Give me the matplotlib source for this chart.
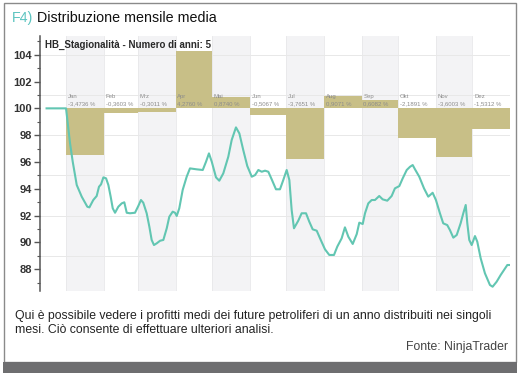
import matplotlib
matplotlib.use("Agg")
import matplotlib.pyplot as plt
from matplotlib.patches import Rectangle
from matplotlib.ticker import MultipleLocator

# ---- data ----
months = ['Jan', 'Feb', 'Mrz', 'Apr', 'Mai', 'Jun', 'Jul', 'Aug', 'Sep', 'Okt', 'Nov', 'Dez']
month_days = [31, 28, 31, 30, 31, 30, 31, 31, 30, 31, 30, 31]
month_pct = [-3.4736, -0.3603, -0.3011, 4.2760, 0.8740, -0.5067,
             -3.7651, 0.9071, 0.6082, -2.1891, -3.6003, -1.5312]

line_day = [-16, 0, 1.1, 3.3, 5.5, 8.8, 12.9, 17.5, 19.2, 22.4, 25.2, 27.1, 28.8, 30.7, 32.9,
            34.8, 36.7, 38.4, 40.3, 43.0, 45.8, 47.9, 49.9, 52.6, 56.7, 59.4, 61.6, 63.5,
            66.3, 68.5, 70.4, 72.3, 74.6, 77.3, 80.0, 82.8, 84.9, 87.7, 89.6, 91.0, 93.1,
            95.9, 99.2, 101.9, 107.4, 112.4, 115.1, 117.5, 119.8, 123.3, 126.0, 129.3,
            133.4, 136.2, 139.7, 142.5, 145.7, 149.0, 152.7, 155.4, 158.1, 160.9, 163.6,
            166.3, 169.1, 172.6, 175.9, 178.6, 181.4, 183.6, 185.5, 187.4, 190.9, 193.7,
            197.3, 200.0, 202.8, 206.1, 209.4, 212.9, 216.4, 220.3, 223.0, 226.6, 229.3,
            232.1, 235.7, 239.0, 241.1, 243.9, 245.8, 248.5, 251.3, 254.0, 257.5, 260.3,
            264.1, 267.7, 270.4, 274.0, 276.8, 280.1, 282.8, 285.0, 286.9, 290.4, 294.3,
            297.8, 301.4, 304.1, 307.4, 310.1, 313.4, 315.6, 318.4, 321.2, 324.4, 326.6,
            328.6, 329.9, 331.5, 333.5, 336.2, 338.1, 340.9, 344.4, 348.5, 350.7, 354.0,
            357.3, 360.9, 362.8, 365.0]
line_val = [100, 100, 99.13, 97.39, 96.02, 94.28, 93.41, 92.66, 92.61, 93.16, 93.46, 94.15,
            94.33, 94.85, 94.78, 94.28, 93.41, 92.54, 92.21, 92.66, 92.91, 92.99, 92.21,
            92.17, 92.21, 92.71, 93.16, 92.96, 92.17, 91.17, 90.18, 89.80, 89.93, 90.12,
            90.18, 91.05, 91.91, 92.29, 92.21, 91.97, 92.54, 93.91, 94.90, 95.52, 95.45,
            95.40, 96.02, 96.64, 96.02, 94.85, 94.60, 95.15, 96.39, 97.64, 98.58, 98.13,
            96.89, 95.70, 94.90, 95.02, 95.40, 95.27, 95.35, 95.27, 94.70, 93.96, 93.96,
            94.65, 95.40, 94.65, 92.41, 91.05, 91.61, 92.17, 92.17, 91.54, 90.97, 90.87,
            90.18, 89.48, 89.06, 89.06, 89.68, 90.30, 91.12, 90.42, 89.88, 90.62, 91.47,
            91.37, 92.17, 92.91, 93.16, 93.16, 93.46, 93.21, 93.11, 93.46, 94.03, 94.20,
            94.78, 95.40, 95.64, 95.77, 95.45, 94.90, 94.03, 93.41, 93.70, 93.16, 92.17,
            91.42, 91.29, 90.92, 90.35, 90.55, 91.42, 92.17, 92.79, 91.42, 90.18, 89.80,
            90.47, 90.05, 88.81, 87.69, 86.82, 86.69, 87.06, 87.56, 88.06, 88.31, 88.31]

title_prefix = "F4)"
title_text = " Distribuzione mensile media"
subtitle = "HB_Stagionalità - Numero di anni: 5"
caption = ("Qui è possibile vedere i profitti medi dei future petroliferi di un anno distribuiti nei singoli\n"
           "mesi. Ciò consente di effettuare ulteriori analisi.")
source = "Fonte: NinjaTrader"

# ---- figure ----
W, H = 522, 373
fig = plt.figure(figsize=(W / 100, H / 100), dpi=100)
fig.patch.set_facecolor('white')

# frame and bottom bar
fig.add_artist(Rectangle((4 / W, 1 - 362 / H), 512 / W, 359 / H, transform=fig.transFigure,
                         fill=False, edgecolor='#8a8a8a', lw=1.0))
fig.add_artist(Rectangle((3 / W, 0), 514 / W, 11 / H, transform=fig.transFigure,
                         facecolor='#6e6e70', edgecolor='none'))

# title
t1 = fig.text(12 / W, 1 - 18 / H, title_prefix, color='#5cc4c0', fontsize=10.3,
              family='Liberation Sans', va='center', ha='left')
fig.canvas.draw()
bb = t1.get_window_extent()
fig.text(bb.x1 / W, 1 - 18 / H, title_text, color='#111111', fontsize=10.3,
         family='Liberation Sans', va='center', ha='left')

# caption
fig.text(15 / W, 1 - 323 / H, caption, fontsize=8.8, family='Liberation Sans', color='#222222',
         va='center', ha='left', linespacing=1.15)
fig.text(508 / W, 1 - 347 / H, source, fontsize=8.8, family='Liberation Sans', color='#444444',
         va='center', ha='right')

ax = fig.add_axes([40 / W, 1 - 291 / H, 470 / W, 255 / H])
ax.set_xlim(-21.4, 365)
ax.set_ylim(86.37, 105.4)

starts = [sum(month_days[:i]) for i in range(12)]

# alternating bands
for i, (s, d) in enumerate(zip(starts, month_days)):
    if i % 2 == 0:
        ax.axvspan(s, s + d, color='#f3f3f5', lw=0, zorder=0)
    ax.axvline(s, color='#e8e8ea', lw=0.6, zorder=0.5)

for gy in [89, 92, 95, 98, 101, 104]:
    ax.axhline(gy, color='#e8e8e8', lw=0.7, zorder=0.6)

# monthly bars
ax.bar(starts, month_pct, width=month_days, bottom=100, align='edge',
       color='#c8bf87', edgecolor='none', zorder=1)

# month labels
for s, m, p in zip(starts, months, month_pct):
    ax.text(s + 1.5, 100.85, m, fontsize=4.3, color='#8c8c8c', va='center', ha='left',
            family='Liberation Sans', zorder=3)
    ax.text(s + 1.5, 100.35, f"{p:.4f}".replace('.', ',') + " %", fontsize=4.3,
            color='#8c8c8c', va='center', ha='left', family='Liberation Sans', zorder=3)

# line
ax.plot(line_day, line_val, color='#62c6b2', lw=1.5, zorder=4, solid_joinstyle='round')

# subtitle
ax.text(-17, 104.7, subtitle, fontsize=7.0, fontweight='bold', color='#2a2a2a',
        family='Liberation Sans', va='center', ha='left', zorder=5)

# axes styling
for sp in ['top', 'right', 'bottom']:
    ax.spines[sp].set_visible(False)
ax.spines['left'].set_color('#555555')
ax.spines['left'].set_linewidth(1.1)
ax.set_xticks([])
ax.yaxis.set_major_locator(MultipleLocator(2))
ax.yaxis.set_minor_locator(MultipleLocator(1))
ax.set_yticks(range(88, 105, 2))
ax.tick_params(axis='y', which='major', length=4, width=1, color='#555555',
               labelsize=8, labelcolor='#333333', pad=1.5)
ax.tick_params(axis='y', which='minor', length=2.5, width=0.8, color='#555555')
for lab in ax.get_yticklabels():
    lab.set_fontweight('bold')
    lab.set_family('Liberation Sans')
ax.set_facecolor('white')

fig.savefig('out.png', dpi=100)
